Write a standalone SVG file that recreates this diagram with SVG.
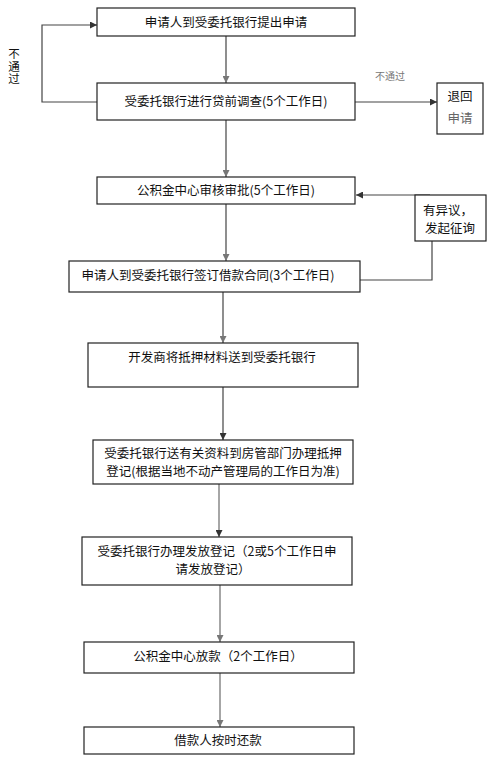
<svg xmlns="http://www.w3.org/2000/svg" width="491" height="759" viewBox="0 0 491 759">
<defs>
<marker id="ah" viewBox="0 0 10 10" refX="10" refY="5" markerWidth="7" markerHeight="7" orient="auto" markerUnits="userSpaceOnUse"><path d="M0,0 L10,5 L0,10 z" fill="#333"/></marker>
<marker id="ahg" viewBox="0 0 10 10" refX="10" refY="5" markerWidth="7" markerHeight="7" orient="auto" markerUnits="userSpaceOnUse"><path d="M0,0 L10,5 L0,10 z" fill="#777"/></marker>
</defs>
<style>
.box{fill:#fff;stroke:#222;stroke-width:1.2}
.t{font-family:"Noto Sans CJK SC","Liberation Sans",sans-serif;font-size:12.5px;fill:#111;text-anchor:middle}
.tv{font-family:"Noto Sans CJK SC","Liberation Sans",sans-serif;font-size:11.5px;fill:#111;writing-mode:vertical-rl;text-anchor:start;letter-spacing:1px}
.ts{font-family:"Noto Sans CJK SC","Liberation Sans",sans-serif;font-size:10px;fill:#777;text-anchor:middle}
.c{fill:none;stroke:#444;stroke-width:1.2}
.cg{fill:none;stroke:#888;stroke-width:1.5}
</style>
<rect width="491" height="759" fill="#fff"/>
<g id="connectors">
<line class="c" x1="226" y1="36" x2="226" y2="83" marker-end="url(#ahg)"/>
<polyline class="c" points="97,102 42,102 42,25 97,25" marker-end="url(#ah)"/>
<line class="c" x1="355" y1="102" x2="437" y2="102" marker-end="url(#ah)"/>
<line class="c" x1="226" y1="120" x2="226" y2="177" marker-end="url(#ahg)"/>
<line class="c" x1="430" y1="195" x2="356" y2="195" marker-end="url(#ah)"/>
<polyline class="c" points="432,241 432,280 357,280"/>
<line class="c" x1="226" y1="204" x2="226" y2="261" marker-end="url(#ahg)"/>
<line class="c" x1="223" y1="292" x2="223" y2="343" marker-end="url(#ahg)"/>
<line class="c" x1="223" y1="387" x2="223" y2="440" marker-end="url(#ah)"/>
<line class="cg" x1="219" y1="484" x2="219" y2="537" marker-end="url(#ah)"/>
<line class="cg" x1="220" y1="585" x2="220" y2="642" marker-end="url(#ahg)"/>
<line class="cg" x1="220" y1="673" x2="220" y2="727" marker-end="url(#ahg)"/>
<text class="ts" x="390" y="80">不通过</text>
<text class="tv" x="14" y="48">不通过</text>
</g>
<g id="n1"><rect class="box" x="97" y="8" width="258" height="28"/><text class="t" x="226" y="26.5">申请人到受委托银行提出申请</text></g>
<g id="n2"><rect class="box" x="97" y="83" width="258" height="37"/><text class="t" x="226" y="106">受委托银行进行贷前调查(5个工作日)</text></g>
<g id="n_return"><rect class="box" x="437" y="83" width="46" height="51"/><text class="t" x="460" y="101">退回</text><text class="t" x="460" y="123" style="fill:#666">申请</text></g>
<g id="n3"><rect class="box" x="97" y="177" width="258" height="27"/><text class="t" x="226" y="195">公积金中心审核审批(5个工作日)</text></g>
<g id="n_obj"><rect class="box" x="415" y="195" width="71" height="46"/><text class="t" x="448" y="215">有异议，</text><text class="t" x="450" y="233">发起征询</text></g>
<g id="n4"><rect class="box" x="69" y="261" width="291" height="31"/><text class="t" x="208" y="280">申请人到受委托银行签订借款合同(3个工作日)</text></g>
<g id="n5"><rect class="box" x="88" y="343" width="270" height="44"/><text class="t" x="222" y="362">开发商将抵押材料送到受委托银行</text></g>
<g id="n6"><rect class="box" x="93" y="440" width="260" height="44"/><text class="t" x="223" y="458">受委托银行送有关资料到房管部门办理抵押</text><text class="t" x="223" y="476">登记(根据当地不动产管理局的工作日为准)</text></g>
<g id="n7"><rect class="box" x="82" y="537" width="270" height="48"/><text class="t" x="217" y="556">受委托银行办理发放登记（2或5个工作日申</text><text class="t" x="213" y="574">请发放登记）</text></g>
<g id="n8"><rect class="box" x="84" y="642" width="270" height="31"/><text class="t" x="218" y="661">公积金中心放款（2个工作日）</text></g>
<g id="n9"><rect class="box" x="84" y="727" width="270" height="27"/><text class="t" x="218" y="745">借款人按时还款</text></g>
</svg>
